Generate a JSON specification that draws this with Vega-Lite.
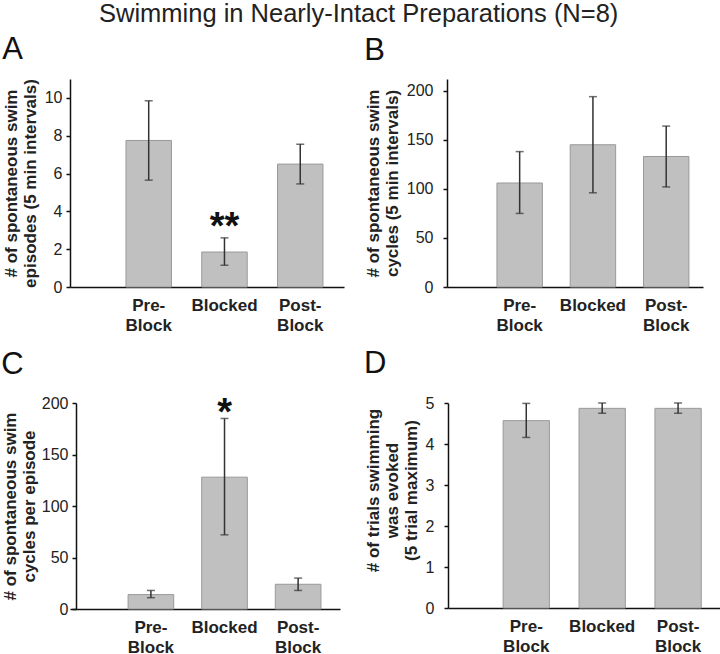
{
  "$schema": "https://vega.github.io/schema/vega-lite/v6.json",
  "background": "white",
  "padding": {"left": 1, "top": 2, "right": 0, "bottom": 0},
  "config": {
    "font": "Liberation Sans",
    "view": {"stroke": null},
    "axisY": {"grid": false, "domainColor": "#111", "domainWidth": 1.5, "tickColor": "#111", "tickWidth": 1.5, "tickSize": 4, "labelFontSize": 16, "labelColor": "#222", "labelPadding": 4, "titleFontSize": 17, "titleFontWeight": "bold", "titleColor": "#222", "titlePadding": 5, "titleLineHeight": 19},
    "axisX": {"title": null, "ticks": false, "domainColor": "#111", "domainWidth": 1.5, "labelFontSize": 17, "labelFontWeight": "bold", "labelColor": "#222", "labelAngle": 0, "labelPadding": 10, "labelLineHeight": 20, "labelExpr": "datum.value == 'Pre-Block' ? ['Pre-','Block'] : datum.value == 'Post-Block' ? ['Post-','Block'] : datum.value"}
  },
  "title": {"text": "Swimming in Nearly-Intact Preparations (N=8)", "fontSize": 25.5, "fontWeight": "normal", "color": "#222", "anchor": "middle", "offset": 6, "dx": -5},
  "datasets": {
    "A": [
      {"cond": "Pre-Block", "mean": 7.75, "lo": 5.65, "hi": 9.85, "sig": ""},
      {"cond": "Blocked", "mean": 1.85, "lo": 1.15, "hi": 2.6, "sig": "**"},
      {"cond": "Post-Block", "mean": 6.5, "lo": 5.45, "hi": 7.55, "sig": ""}
    ],
    "B": [
      {"cond": "Pre-Block", "mean": 106, "lo": 75, "hi": 138, "sig": ""},
      {"cond": "Blocked", "mean": 145, "lo": 96, "hi": 194, "sig": ""},
      {"cond": "Post-Block", "mean": 133, "lo": 102, "hi": 164, "sig": ""}
    ],
    "C": [
      {"cond": "Pre-Block", "mean": 14, "lo": 11, "hi": 18, "sig": ""},
      {"cond": "Blocked", "mean": 128, "lo": 72, "hi": 185, "sig": "*"},
      {"cond": "Post-Block", "mean": 24, "lo": 18, "hi": 30, "sig": ""}
    ],
    "D": [
      {"cond": "Pre-Block", "mean": 4.57, "lo": 4.16, "hi": 4.99, "sig": ""},
      {"cond": "Blocked", "mean": 4.87, "lo": 4.75, "hi": 5.0, "sig": ""},
      {"cond": "Post-Block", "mean": 4.87, "lo": 4.75, "hi": 5.0, "sig": ""}
    ]
  },
  "columns": 2,
  "align": {"row": "all", "column": "none"},
  "spacing": {"row": 15, "column": 20},
  "concat": [
    {
      "width": 274, "height": 208,
      "data": {"name": "A"},
      "title": {"text": "A", "anchor": "start", "frame": "bounds", "fontSize": 31, "fontWeight": "normal", "color": "#111", "baseline": "alphabetic", "offset": -11},
      "encoding": {"x": {"field": "cond", "type": "nominal", "sort": ["Pre-Block", "Blocked", "Post-Block"], "scale": {"paddingInner": 0.4, "paddingOuter": 0.508, "align": 0.727}}},
      "layer": [
        {"mark": {"type": "bar", "fill": "#c0c0c0", "stroke": "#999", "strokeWidth": 1}, "encoding": {"y": {"field": "mean", "type": "quantitative", "scale": {"domain": [0, 11], "nice": false}, "axis": {"values": [0, 2, 4, 6, 8, 10], "title": ["# of spontaneous swim", "episodes (5 min intervals)"]}}}},
        {"mark": {"type": "rule", "color": "#333", "strokeWidth": 1.5}, "encoding": {"y": {"field": "lo", "type": "quantitative"}, "y2": {"field": "hi"}}},
        {"mark": {"type": "tick", "color": "#333", "size": 8, "thickness": 1.5}, "encoding": {"y": {"field": "lo", "type": "quantitative"}}},
        {"mark": {"type": "tick", "color": "#333", "size": 8, "thickness": 1.5}, "encoding": {"y": {"field": "hi", "type": "quantitative"}}},
        {"transform": [{"filter": "datum.sig != ''"}], "mark": {"type": "text", "fontSize": 38, "fontWeight": "bold", "color": "#111", "baseline": "alphabetic", "dy": 1}, "encoding": {"y": {"field": "hi", "type": "quantitative"}, "text": {"field": "sig"}}}
      ]
    },
    {
      "width": 256, "height": 208,
      "data": {"name": "B"},
      "title": {"text": "B", "anchor": "start", "frame": "bounds", "fontSize": 31, "fontWeight": "normal", "color": "#111", "baseline": "alphabetic", "offset": -12},
      "encoding": {"x": {"field": "cond", "type": "nominal", "sort": ["Pre-Block", "Blocked", "Post-Block"], "scale": {"paddingInner": 0.38, "paddingOuter": 0.437, "align": 0.78}}},
      "layer": [
        {"mark": {"type": "bar", "fill": "#c0c0c0", "stroke": "#999", "strokeWidth": 1}, "encoding": {"y": {"field": "mean", "type": "quantitative", "scale": {"domain": [0, 212], "nice": false}, "axis": {"values": [0, 50, 100, 150, 200], "labelPadding": 10, "title": ["# of spontaneous swim", "cycles (5 min intervals)"]}}}},
        {"mark": {"type": "rule", "color": "#333", "strokeWidth": 1.5}, "encoding": {"y": {"field": "lo", "type": "quantitative"}, "y2": {"field": "hi"}}},
        {"mark": {"type": "tick", "color": "#333", "size": 8, "thickness": 1.5}, "encoding": {"y": {"field": "lo", "type": "quantitative"}}},
        {"mark": {"type": "tick", "color": "#333", "size": 8, "thickness": 1.5}, "encoding": {"y": {"field": "hi", "type": "quantitative"}}}
      ]
    },
    {
      "width": 270, "height": 206,
      "data": {"name": "C"},
      "title": {"text": "C", "anchor": "start", "frame": "bounds", "fontSize": 31, "fontWeight": "normal", "color": "#111", "baseline": "alphabetic", "offset": -10},
      "encoding": {"x": {"field": "cond", "type": "nominal", "sort": ["Pre-Block", "Blocked", "Post-Block"], "scale": {"paddingInner": 0.38, "paddingOuter": 0.524, "align": 0.753}}},
      "layer": [
        {"mark": {"type": "bar", "fill": "#c0c0c0", "stroke": "#999", "strokeWidth": 1}, "encoding": {"y": {"field": "mean", "type": "quantitative", "scale": {"domain": [0, 200], "nice": false}, "axis": {"values": [0, 50, 100, 150, 200], "offset": -6, "titlePadding": 3, "title": ["# of spontaneous swim", "cycles per episode"]}}}},
        {"mark": {"type": "rule", "color": "#333", "strokeWidth": 1.5}, "encoding": {"y": {"field": "lo", "type": "quantitative"}, "y2": {"field": "hi"}}},
        {"mark": {"type": "tick", "color": "#333", "size": 8, "thickness": 1.5}, "encoding": {"y": {"field": "lo", "type": "quantitative"}}},
        {"mark": {"type": "tick", "color": "#333", "size": 8, "thickness": 1.5}, "encoding": {"y": {"field": "hi", "type": "quantitative"}}},
        {"transform": [{"filter": "datum.sig != ''"}], "mark": {"type": "text", "fontSize": 38, "fontWeight": "bold", "color": "#111", "baseline": "alphabetic", "dy": 7}, "encoding": {"y": {"field": "hi", "type": "quantitative"}, "text": {"field": "sig"}}}
      ]
    },
    {
      "width": 278, "height": 205,
      "data": {"name": "D"},
      "title": {"text": "D", "anchor": "start", "frame": "bounds", "fontSize": 31, "fontWeight": "normal", "color": "#111", "baseline": "alphabetic", "offset": -9},
      "encoding": {"x": {"field": "cond", "type": "nominal", "sort": ["Pre-Block", "Blocked", "Post-Block"], "scale": {"paddingInner": 0.39, "paddingOuter": 0.526, "align": 0.69}}},
      "layer": [
        {"mark": {"type": "bar", "fill": "#c0c0c0", "stroke": "#999", "strokeWidth": 1}, "encoding": {"y": {"field": "mean", "type": "quantitative", "scale": {"domain": [0, 5], "nice": false}, "axis": {"values": [0, 1, 2, 3, 4, 5], "labelPadding": 10, "titleY": 87, "title": ["# of trials swimming", "was evoked", "(5 trial maximum)"]}}}},
        {"mark": {"type": "rule", "color": "#333", "strokeWidth": 1.5}, "encoding": {"y": {"field": "lo", "type": "quantitative"}, "y2": {"field": "hi"}}},
        {"mark": {"type": "tick", "color": "#333", "size": 8, "thickness": 1.5}, "encoding": {"y": {"field": "lo", "type": "quantitative"}}},
        {"mark": {"type": "tick", "color": "#333", "size": 8, "thickness": 1.5}, "encoding": {"y": {"field": "hi", "type": "quantitative"}}}
      ]
    }
  ]
}
